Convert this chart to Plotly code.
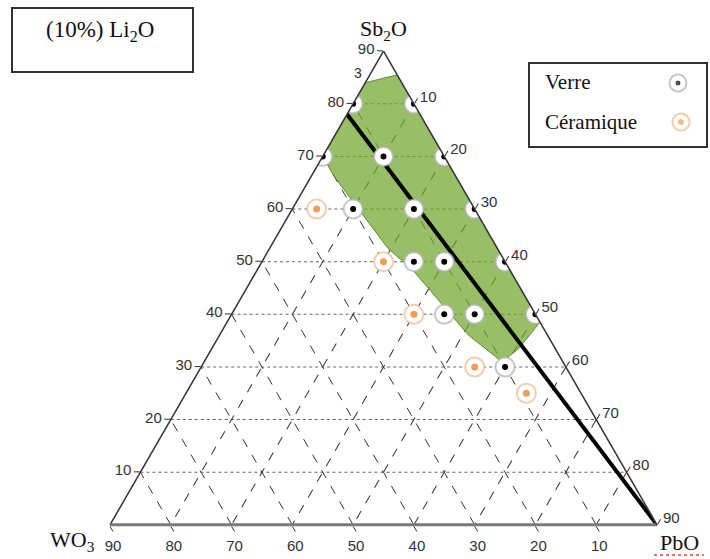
import plotly.graph_objects as go

# Composition system: (10%) Li2O fixed, remaining Sb2O3 + WO3 + PbO = 90 mol%
TOTAL = 90
tick_values = [10, 20, 30, 40, 50, 60, 70, 80, 90]

# Glass-forming compositions (Sb2O3, WO3, PbO)
verre_sb2o3 = [80, 80, 70, 70, 70, 60, 60, 60, 50, 50, 50, 40, 40, 40, 30]
verre_wo3 = [10, 0, 20, 10, 0, 20, 10, 0, 15, 10, 0, 15, 10, 0, 10]
verre_pbo = [0, 10, 0, 10, 20, 10, 20, 30, 25, 30, 40, 35, 40, 50, 50]

# Crystallised (ceramic) compositions
ceram_sb2o3 = [60, 50, 40, 30, 25]
ceram_wo3 = [26, 20, 20, 15, 9]
ceram_pbo = [4, 20, 30, 45, 56]

# Outline of the glass-forming domain
zone_sb2o3 = [84, 85.5, 38.5, 33.5, 31, 36, 48.5, 52.5, 66, 70, 84]
zone_wo3 = [6, 0, 0, 6, 10, 13, 16, 18, 20, 20, 6]
zone_pbo = [0, 4.5, 51.5, 50.5, 49, 41, 25.5, 19.5, 4, 0, 0]

# Separation line towards the PbO corner
line_sb2o3 = [78, 0]
line_wo3 = [12, 0]
line_pbo = [0, 90]

W, H = 710, 559


def px(x):
    return x / W


def py(y):
    return 1 - y / H


SERIF = "Liberation Serif, Times New Roman, serif"
SANS = "Liberation Sans, Arial, sans-serif"

fig = go.Figure()

fig.add_trace(go.Scatterternary(
    a=zone_sb2o3, b=zone_wo3, c=zone_pbo, mode="lines", fill="toself",
    fillcolor="rgba(112,165,45,0.72)", line=dict(color="rgba(90,130,40,0.9)", width=1),
    hoverinfo="skip", showlegend=False))

fig.add_trace(go.Scatterternary(
    a=line_sb2o3, b=line_wo3, c=line_pbo, mode="lines",
    line=dict(color="black", width=4), hoverinfo="skip", showlegend=False))


def add_points(a, b, c, ring, dot, dot_size):
    fig.add_trace(go.Scatterternary(
        a=a, b=b, c=c, mode="markers",
        marker=dict(size=19, color="white", line=dict(color=ring, width=2)),
        hoverinfo="skip", showlegend=False))
    fig.add_trace(go.Scatterternary(
        a=a, b=b, c=c, mode="markers",
        marker=dict(size=dot_size, color=dot, line=dict(width=0)),
        hoverinfo="skip", showlegend=False))


add_points(verre_sb2o3, verre_wo3, verre_pbo, "rgba(175,175,175,0.7)", "black", 6)
add_points(ceram_sb2o3, ceram_wo3, ceram_pbo, "rgba(236,190,150,0.75)", "#ef9d58", 7)

# Legend symbols drawn on a hidden pixel-space axis
legend_x = [678, 681]
legend_y = [83, 122]
fig.add_trace(go.Scatter(
    x=legend_x, y=legend_y, mode="markers", xaxis="x", yaxis="y",
    marker=dict(size=17, color="white",
                line=dict(color=["rgba(175,175,175,0.7)", "rgba(236,190,150,0.75)"], width=2)),
    hoverinfo="skip", showlegend=False))
fig.add_trace(go.Scatter(
    x=legend_x, y=legend_y, mode="markers", xaxis="x", yaxis="y",
    marker=dict(size=[6, 7], color=["black", "#ef9d58"]),
    hoverinfo="skip", showlegend=False))


def axis_style(line_color, line_width, grid_color, grid_dash):
    return dict(
        min=0, tickmode="array", tickvals=tick_values,
        ticktext=[str(v) for v in tick_values],
        ticks="outside", ticklen=6, tickcolor="#333", tickwidth=1,
        tickfont=dict(family=SANS, size=15, color="#333"),
        linecolor=line_color, linewidth=line_width, showline=True,
        showgrid=True, gridcolor=grid_color, gridwidth=1, griddash=grid_dash,
        title=dict(text=""))


fig.update_layout(
    width=W, height=H,
    margin=dict(l=0, r=0, t=0, b=0),
    paper_bgcolor="white",
    plot_bgcolor="white",
    showlegend=False,
    ternary=dict(
        sum=TOTAL,
        domain=dict(x=[px(110), px(657)], y=[py(526), py(50)]),
        bgcolor="white",
        aaxis=axis_style("#333", 1.5, "#666", "dot"),
        baxis=axis_style("#7a7a7a", 3, "#333", "dash"),
        caxis=axis_style("#333", 1.5, "#333", "dash"),
    ),
    xaxis=dict(domain=[0, 1], range=[0, W], visible=False, fixedrange=True),
    yaxis=dict(domain=[0, 1], range=[H, 0], visible=False, fixedrange=True),
)

shapes = [
    dict(type="rect", xref="paper", yref="paper", x0=px(12), x1=px(193), y0=py(8), y1=py(72),
         line=dict(color="#333", width=2), fillcolor="white", layer="below"),
    dict(type="rect", xref="paper", yref="paper", x0=px(529), x1=px(707), y0=py(63), y1=py(147),
         line=dict(color="#333", width=2), fillcolor="white", layer="below"),
    dict(type="line", xref="paper", yref="paper", x0=px(654), x1=px(704), y0=py(555), y1=py(555),
         line=dict(color="#e04040", width=1.5, dash="dot")),
]
fig.update_layout(shapes=shapes)

annotations = [
    dict(text="(10%) Li<sub>2</sub>O", x=px(100), y=py(31), size=23),
    dict(text="Sb<sub>2</sub>O", x=px(384), y=py(30), size=22),
    dict(text="WO<sub>3</sub>", x=px(72), y=py(541), size=22),
    dict(text="PbO", x=px(679), y=py(542), size=22),
    dict(text="Verre", x=px(543), y=py(82), size=21, xanchor="left"),
    dict(text="Céramique", x=px(543), y=py(122), size=21, xanchor="left"),
]
for ann in annotations:
    fig.add_annotation(
        text=ann["text"], x=ann["x"], y=ann["y"], xref="paper", yref="paper",
        xanchor=ann.get("xanchor", "center"), yanchor="middle", showarrow=False,
        font=dict(family=SERIF, size=ann["size"], color="#111"))

fig.add_annotation(text="3", x=px(358), y=py(63), xref="paper", yref="paper",
                   showarrow=False, font=dict(family=SANS, size=14, color="#333"))

fig.write_html("out.html")
